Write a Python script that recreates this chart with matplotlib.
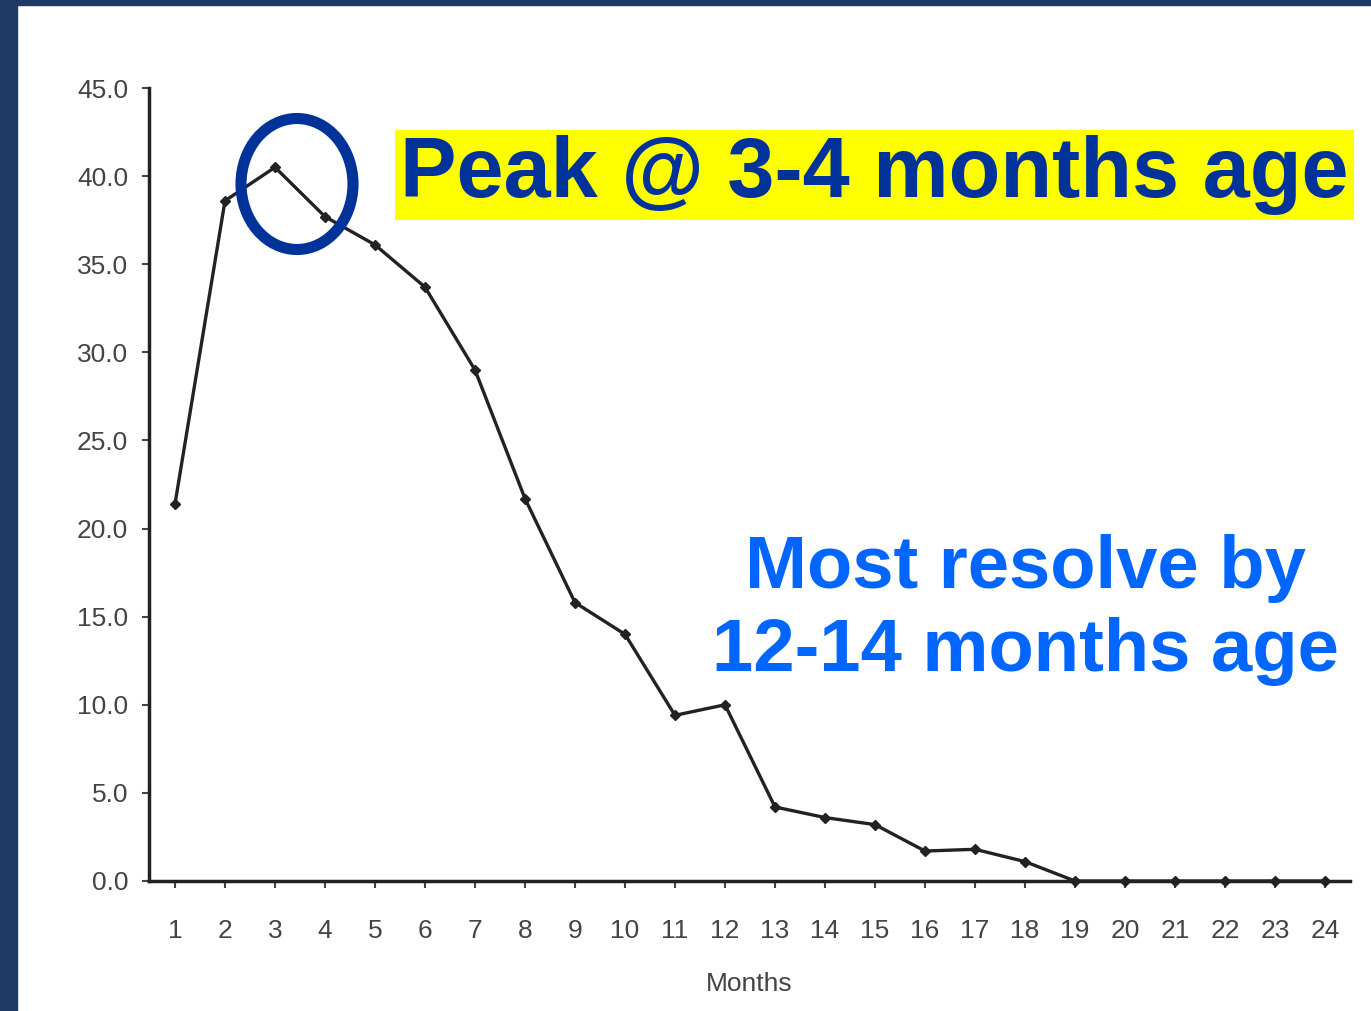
import matplotlib
matplotlib.use("Agg")
import matplotlib.pyplot as plt
from matplotlib.patches import Rectangle, Ellipse

# data
months = list(range(1, 25))
values = [21.4, 38.6, 40.5, 37.7, 36.1, 33.7, 29.0, 21.7, 15.8, 14.0, 9.4, 10.0,
          4.2, 3.6, 3.2, 1.7, 1.8, 1.1, 0.0, 0.0, 0.0, 0.0, 0.0, 0.0]
yticks = [0, 5, 10, 15, 20, 25, 30, 35, 40, 45]
ytick_labels = ["%.1f" % v for v in yticks]

navy = "#1f3864"
W, H = 1371, 1011
fig = plt.figure(figsize=(W / 100, H / 100), dpi=100)
fig.patch.set_facecolor("white")

# dark frame on left and top
fig.patches.append(Rectangle((0, 0), 17 / W, 1, transform=fig.transFigure,
                             color=navy, zorder=0))
fig.patches.append(Rectangle((0, 1 - 5 / H), 1, 5 / H, transform=fig.transFigure,
                             color=navy, zorder=0))

ax = fig.add_axes([149 / W, 1 - 881 / H, (1350 - 149) / W, (881 - 88) / H])
ax.plot(months, values, color="#222222", lw=2.4, marker="D", ms=5,
        clip_on=False, zorder=3)

ax.set_xlim(0.48, 24.5)
ax.set_ylim(0, 45)
ax.set_xticks(months)
ax.set_xticklabels([str(m) for m in months])
ax.set_yticks(yticks)
ax.set_yticklabels(ytick_labels)
for s in ["top", "right"]:
    ax.spines[s].set_visible(False)
for s in ["left", "bottom"]:
    ax.spines[s].set_linewidth(2.5)
    ax.spines[s].set_color("#222222")
ax.tick_params(axis="both", colors="#444444", labelsize=19, width=1.5, length=5)
ax.tick_params(axis="x", pad=22)
ax.tick_params(axis="y", pad=10)
for lab in ax.get_xticklabels() + ax.get_yticklabels():
    lab.set_fontfamily("Liberation Sans")
ax.set_xlabel("Months", fontsize=19, color="#444444", family="Liberation Sans",
              labelpad=21)

# circle round the peak
fig.patches.append(Ellipse((297 / W, 1 - 184 / H), 112 / W, 131 / H,
                           transform=fig.transFigure, fill=False,
                           ec="#003399", lw=8, zorder=5))

fig.text(400 / W, 1 - 175 / H, "Peak @ 3-4 months age", fontsize=61,
         fontweight="bold", color="#003399", family="Liberation Sans",
         va="center", ha="left",
         bbox=dict(boxstyle="square,pad=0.06", fc="#ffff00", ec="none"))

fig.text(1025 / W, 1 - 610 / H, "Most resolve by\n12-14 months age", fontsize=53.5,
         fontweight="bold", color="#0066ff", family="Liberation Sans",
         va="center", ha="center", linespacing=1.27)

fig.savefig("out.png", dpi=100)
